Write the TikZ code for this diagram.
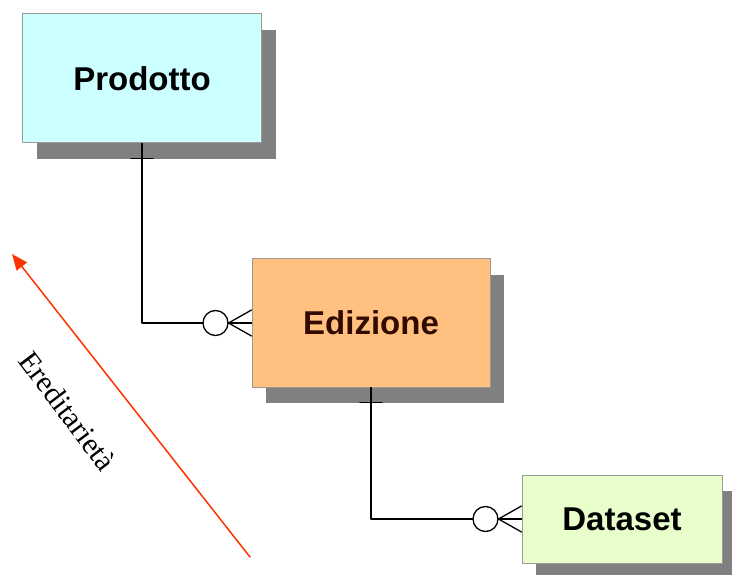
\documentclass[tikz,border=0pt]{standalone}
\usepackage{fontspec}
\setmainfont{Liberation Serif}
\newfontfamily\boxfont{Liberation Sans}
\usetikzlibrary{shadows,arrows.meta}

\definecolor{prodfill}{RGB}{204,255,255}
\definecolor{edizfill}{RGB}{255,192,128}
\definecolor{datafill}{RGB}{232,255,204}
\definecolor{shadowgray}{RGB}{128,128,128}
\definecolor{arrowred}{RGB}{255,51,0}

\tikzset{
	entity/.style={draw=gray!80, line width=1pt, rectangle, inner sep=0pt,
		font=\boxfont\bfseries\fontsize{33}{33}\selectfont,
		drop shadow={shadow xshift=14pt, shadow yshift=-16pt, fill=shadowgray, opacity=1}},
	rel/.style={line width=1.3pt, black}
}
% zero-or-many end on the west side of a node
\newcommand\zeromany[1]{%
	\draw[rel, fill=white] ([xshift=-36pt]#1.west) circle (12.5pt);
	\draw[rel] ([xshift=-23pt]#1.west)--([yshift=13pt]#1.west) ([xshift=-23pt]#1.west)--([yshift=-13pt]#1.west);}
% exactly-one bar below a node
\newcommand\onebar[1]{\draw[rel] ([shift={(-11pt,-15pt)}]#1.south)--++(22pt,0);}

\begin{document}
\begin{tikzpicture}[x=1pt, y=-1pt, line join=round, line cap=round]
	\useasboundingbox (0,0) rectangle (732,575);
	\node[entity, fill=prodfill, minimum width=239pt, minimum height=129pt] (prod) at (142,78.5) {Prodotto};
	\node[entity, fill=edizfill, minimum width=238pt, minimum height=128pt, text={rgb,255:red,50;green,10;blue,0}] (ediz) at (371,323) {Edizione};
	\node[entity, fill=datafill, minimum width=200pt, minimum height=88pt] (data) at (622,519) {Dataset};
	\draw[rel] (prod.south)|-(ediz.west);
	\draw[rel] (ediz.south)|-(data.west);
	\onebar{prod} \onebar{ediz}
	\zeromany{ediz} \zeromany{data}
	\coordinate (tail) at (250,557);
	\coordinate (head) at (12,254);
	\draw[arrowred, line width=1.5pt, -{Triangle[length=16pt,width=13pt]}] (tail)--(head);
	\node[rotate=-53, font=\fontsize{30}{30}\selectfont] (inher) at (68,411) {Ereditarietà};
\end{tikzpicture}
\end{document}
